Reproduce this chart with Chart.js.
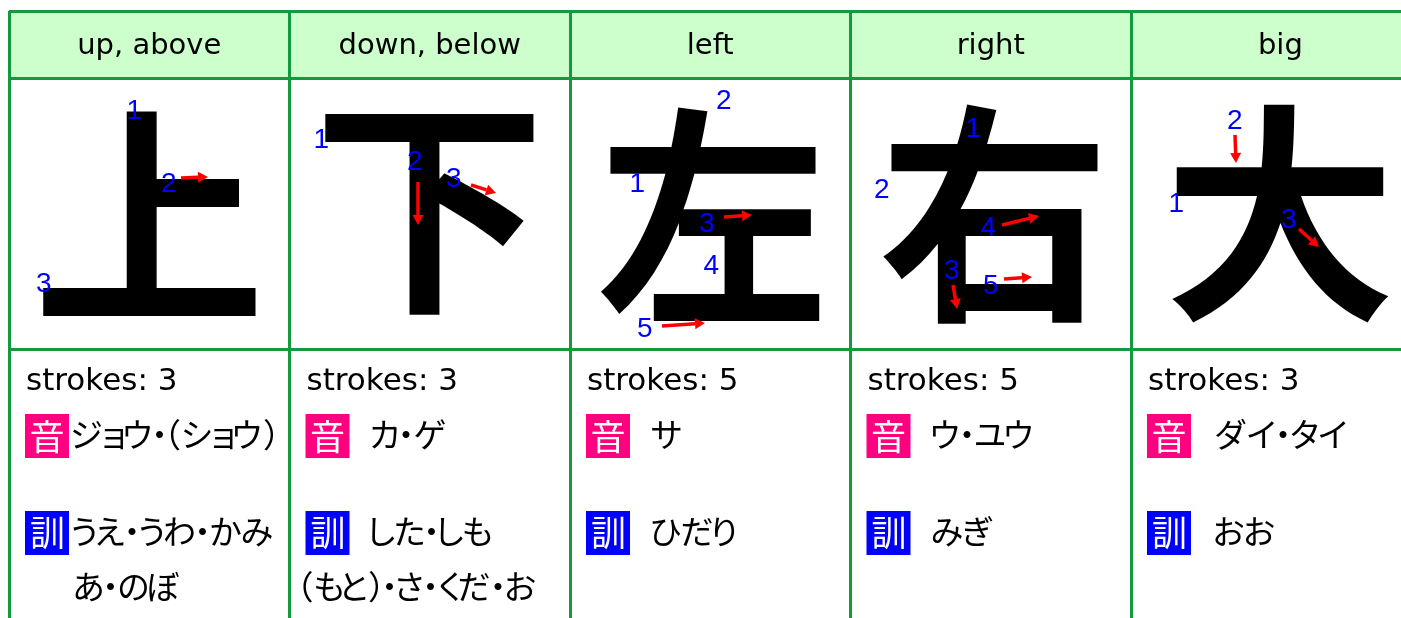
<!DOCTYPE html>
<html>
<head>
<meta charset="utf-8">
<script src="https://cdn.jsdelivr.net/npm/chart.js@4"></script>
<style>
html,body{margin:0;padding:0;background:#ffffff;overflow:hidden}
#wrap{width:1401px;height:618px;position:relative}
</style>
</head>
<body>
<div id="wrap"><canvas id="c"></canvas></div>
<script>
// ---------------- data ----------------
const meanings = ['up, above', 'down, below', 'left', 'right', 'big'];
const kanji = ['上', '下', '左', '右', '大'];
const strokeCounts = [3, 3, 5, 5, 3];
const onReadings = ['ジョウ・（ショウ）', 'カ・ゲ', 'サ', 'ウ・ユウ', 'ダイ・タイ'];
const kunReadings = [['うえ・うわ・かみ', 'あ・のぼ'], ['した・しも', '（もと）・さ・くだ・お'], ['ひだり'], ['みぎ'], ['おお']];
const strokeNumbers = [[1, 2, 3], [1, 2, 3], [1, 2, 3, 4, 5], [1, 2, 3, 4, 5], [1, 2, 3]];
const onLabel = '音';
const kunLabel = '訓';
const strokesLabel = 'strokes: ';

// table structure in scale units (x: columns, y: rows)
const colEdges = [0, 1, 2, 3, 4, 5.065];
const rowEdges = [0, 67, 338];

// ---------------- layout / style ----------------
const GREEN = '#139a3c';
const HEADER_BG = '#ccffcc';
const ON_BG = '#ff0080';
const KUN_BG = '#0000ff';
const LAYOUT = {
  colPx: 280.5,
  textIndent: [64, 82, 82, 82, 84],
  kunLine2Indent: [66, 11],
  // stroke-number label positions (px offset from column left / kanji-row top)
  labelPos: [
    [[126, 31], [160, 104], [35, 204]],
    [[32.5, 60], [125.5, 82], [164.5, 99]],
    [[68, 104], [154, 21], [137, 144], [141, 186], [75, 249]],
    [[123.5, 49], [31.5, 110], [101.5, 191], [137.5, 148], [140.5, 206]],
    [[46, 124], [104, 41], [158, 140]]
  ],
  arrows: [
    [null, [172, 100, 199, 99], null],
    [null, [128.5, 104, 128.5, 147], [181.5, 107, 206.5, 115]],
    [null, null, [154, 139, 182, 137], null, [92, 248, 135, 245]],
    [null, null, [102.5, 207, 106.5, 231], [151.5, 147, 188.5, 138], [153.5, 201, 181.5, 199]],
    [null, [104, 57, 105, 85], [168, 151, 188, 169]]
  ]
};
const JP = '"Noto Sans CJK JP", sans-serif';
const LAT = '"DejaVu Sans", "Noto Sans CJK JP", sans-serif';

function drawJP(ctx, str, x, yMid, gap, minW) {
  const ref = ctx.measureText('あ');
  const base = yMid + (ref.actualBoundingBoxAscent - ref.actualBoundingBoxDescent) / 2;
  let cx = x;
  for (const ch of str) {
    const m = ctx.measureText(ch);
    const l = m.actualBoundingBoxLeft, r = m.actualBoundingBoxRight;
    const w = l + r;
    if (w <= 0.5) { cx += m.width * 0.5; continue; }
    const slot = Math.max(w, minW);
    ctx.fillText(ch, cx + (slot - w) / 2 + l, base);
    cx += slot + gap;
  }
}

function drawInkCentered(ctx, str, cx, cy) {
  const m = ctx.measureText(str);
  const w = m.actualBoundingBoxLeft + m.actualBoundingBoxRight;
  const h = m.actualBoundingBoxAscent + m.actualBoundingBoxDescent;
  ctx.fillText(str, cx - w / 2 + m.actualBoundingBoxLeft, cy - h / 2 + m.actualBoundingBoxAscent);
}

function drawArrow(ctx, x1, y1, x2, y2) {
  const ang = Math.atan2(y2 - y1, x2 - x1);
  const head = 10, hw = 5.5;
  const bx = x2 - head * Math.cos(ang), by = y2 - head * Math.sin(ang);
  ctx.strokeStyle = '#ff0000';
  ctx.fillStyle = '#ff0000';
  ctx.lineWidth = 3.5;
  ctx.lineCap = 'butt';
  ctx.beginPath(); ctx.moveTo(x1, y1); ctx.lineTo(bx, by); ctx.stroke();
  ctx.beginPath();
  ctx.moveTo(x2, y2);
  ctx.lineTo(bx + hw * Math.sin(ang), by - hw * Math.cos(ang));
  ctx.lineTo(bx - hw * Math.sin(ang), by + hw * Math.cos(ang));
  ctx.closePath(); ctx.fill();
}

const tablePlugin = {
  id: 'kanjiTable',
  beforeDraw(chart) {
    const { ctx, scales: { x, y } } = chart;
    ctx.save();
    ctx.fillStyle = HEADER_BG;
    const t = y.getPixelForValue(rowEdges[0]), b = y.getPixelForValue(rowEdges[1]);
    ctx.fillRect(x.left, t, x.right - x.left, b - t);
    ctx.restore();
  },
  afterDraw(chart) {
    const { ctx, scales: { x, y } } = chart;
    ctx.save();
    for (let c = 0; c < kanji.length; c++) {
      const left = x.getPixelForValue(colEdges[c]);
      const center = x.getPixelForValue((colEdges[c] + colEdges[c + 1]) / 2);
      // header
      ctx.fillStyle = '#000';
      ctx.font = '29px ' + LAT;
      ctx.textAlign = 'center';
      ctx.textBaseline = 'alphabetic';
      ctx.fillText(meanings[c], center, y.getPixelForValue(43));
      // kanji
      ctx.textAlign = 'left';
      ctx.font = 'bold 232px ' + JP;
      const kTop = y.getPixelForValue(rowEdges[1]);
      const kMid = (y.getPixelForValue(rowEdges[1]) + y.getPixelForValue(rowEdges[2])) / 2;
      drawInkCentered(ctx, kanji[c], center, kMid);
      // stroke numbers + arrows
      ctx.font = '28px "Liberation Sans", Arial, sans-serif';
      ctx.fillStyle = '#0000ff';
      strokeNumbers[c].forEach((n, i) => {
        const p = LAYOUT.labelPos[c][i];
        drawInkCentered(ctx, String(n), left + p[0], kTop + p[1]);
      });
      LAYOUT.arrows[c].forEach(a => {
        if (a) drawArrow(ctx, left + a[0], kTop + a[1], left + a[2], kTop + a[3]);
      });
      // strokes count
      ctx.fillStyle = '#000';
      ctx.font = '31px ' + LAT;
      ctx.textAlign = 'left';
      ctx.textBaseline = 'alphabetic';
      ctx.fillText(strokesLabel + strokeCounts[c], left + 17, y.getPixelForValue(379));
      // on / kun boxes
      const boxX = left + 16, boxS = 44;
      [[onLabel, ON_BG, 403], [kunLabel, KUN_BG, 500]].forEach(([lab, col, v]) => {
        const by = y.getPixelForValue(v);
        ctx.fillStyle = col;
        ctx.fillRect(boxX, by, boxS, boxS);
        ctx.fillStyle = '#fff';
        ctx.font = '35px ' + JP;
        drawInkCentered(ctx, lab, boxX + boxS / 2, by + boxS / 2);
      });
      // readings
      ctx.fillStyle = '#000';
      ctx.font = '33px ' + JP;
      ctx.textAlign = 'left';
      ctx.textBaseline = 'alphabetic';
      const onMid = y.getPixelForValue(403) + boxS / 2 - 1.5;
      const kunMid = y.getPixelForValue(500) + boxS / 2 - 1;
      drawJP(ctx, onReadings[c], left + LAYOUT.textIndent[c], onMid, 1.5, 14);
      kunReadings[c].forEach((line, li) => {
        const ix = li === 0 ? LAYOUT.textIndent[c] : LAYOUT.kunLine2Indent[c];
        drawJP(ctx, line, left + ix, kunMid + li * 55, 1.5, 14);
      });
    }
    ctx.restore();
  }
};

new Chart(document.getElementById('c'), {
  type: 'scatter',
  data: { datasets: [{ data: [], pointRadius: 0 }] },
  options: {
    responsive: true,
    maintainAspectRatio: false,
    animation: false,
    events: [],
    layout: { padding: { left: 9, top: 11, right: 0, bottom: 0 } },
    plugins: { legend: { display: false }, tooltip: { enabled: false }, title: { display: false } },
    scales: {
      x: {
        type: 'linear', min: 0, max: 1392 / LAYOUT.colPx, position: 'bottom',
        afterBuildTicks: s => { s.ticks = colEdges.filter(v => v <= s.max).map(v => ({ value: v })); },
        afterFit: s => { s.height = 0; },
        ticks: { display: false },
        grid: { color: GREEN, lineWidth: 3, drawTicks: false },
        border: { display: false }
      },
      y: {
        type: 'linear', min: 0, max: 607, reverse: true,
        afterBuildTicks: s => { s.ticks = rowEdges.map(v => ({ value: v })); },
        afterFit: s => { s.width = 0; },
        ticks: { display: false },
        grid: { color: GREEN, lineWidth: 3, drawTicks: false },
        border: { display: false }
      }
    }
  },
  plugins: [tablePlugin]
});
</script>
</body>
</html>
